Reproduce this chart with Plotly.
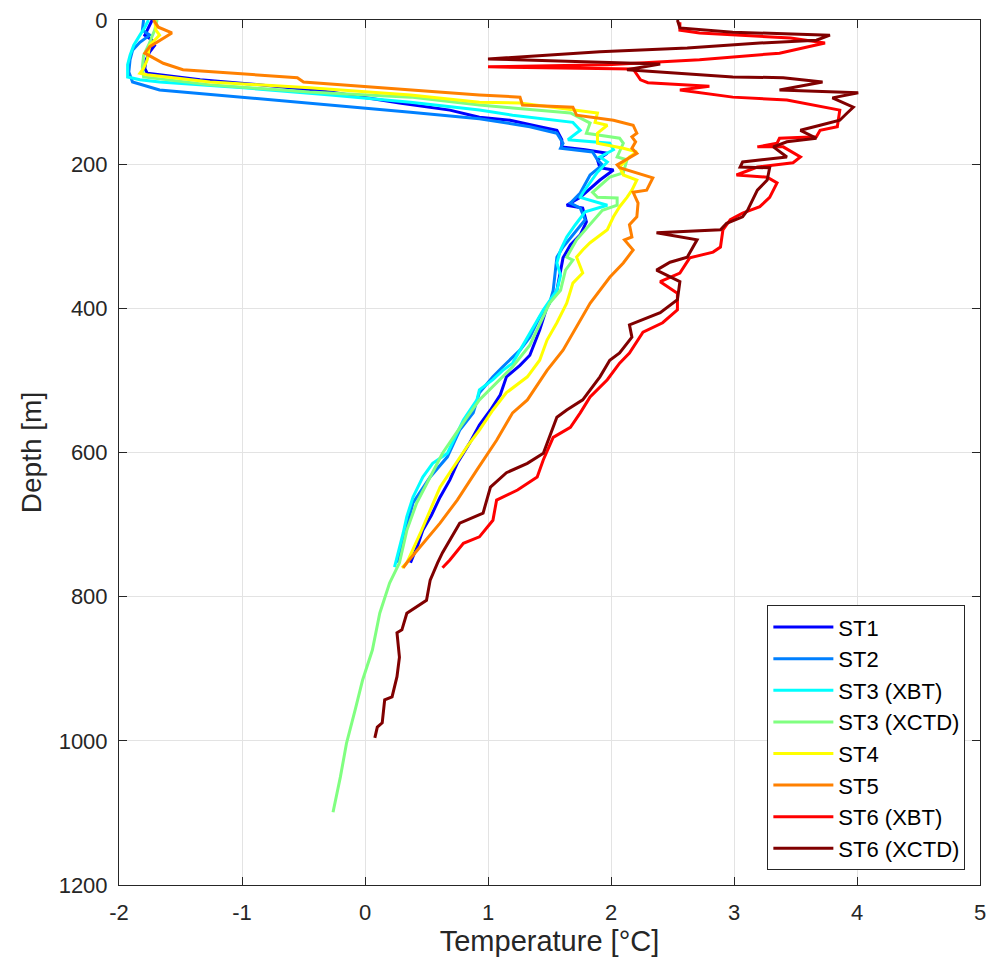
import plotly.graph_objects as go

# ---- data (temperature [°C], depth [m]) ----
st1_t = [-1.73,-1.76,-1.79,-1.73,-1.71,-1.75,-1.78,-1.79,-1.77,-1.67,-1.34,-0.85,-0.28,0.28,0.69,0.93,1.18,1.42,1.56,1.60,1.60,1.79,1.97,1.89,1.91,2.02,1.91,1.75,1.64,1.77,1.80,1.75,1.67,1.61,1.59,1.56,1.48,1.42,1.34,1.26,1.15,1.10,1.02,0.93,0.85,0.75,0.69,0.61,0.54,0.47,0.43,0.37]
st1_d = [0,11,21,28,35,44,55,67,74,76,83,90,100,115,125,135,139,148,153,166,176,180,185,194,205,208,222,246,257,261,280,298,312,330,347,375,398,430,465,479,495,520,541,562,587,615,638,662,687,708,728,753]

st2_t = [-1.80,-1.81,-1.75,-1.83,-1.89,-1.91,-1.92,-1.89,-1.67,-0.99,-0.28,0.37,0.93,1.34,1.56,1.61,1.59,1.85,1.89,1.93,1.83,1.75,1.67,1.75,1.79,1.71,1.61,1.56,1.54,1.53,1.50,1.42,1.34,1.26,1.12,1.04,0.93,0.88,0.77,0.67,0.53,0.39,0.34,0.27,0.27]
st2_d = [0,14,21,31,42,55,72,86,97,107,118,128,137,148,157,171,178,183,194,201,215,240,254,261,277,294,315,329,357,375,393,412,440,458,481,495,517,545,569,606,634,670,703,745,753]

st3x_t = [-1.76,-1.79,-1.83,-1.88,-1.91,-1.93,-1.93,-1.83,-1.67,-0.99,-0.28,0.37,0.93,1.20,1.69,1.75,1.65,1.99,2.02,1.91,1.97,1.89,1.77,1.75,1.97,1.79,1.71,1.64,1.59,1.56,1.59,1.56,1.45,1.32,1.20,1.12,1.04,0.93,0.91,0.80,0.75,0.67,0.55,0.47,0.39,0.34,0.31,0.26,0.24]
st3x_d = [0,10,21,35,49,62,79,83,86,94,104,114,125,132,142,153,166,171,180,190,197,211,240,246,257,266,284,301,319,337,354,375,402,440,476,486,499,513,527,555,573,601,615,634,662,689,712,745,759]

st3c_t = [-1.69,-1.71,-1.76,-1.80,-1.81,-1.80,-1.26,-0.45,0.37,0.93,1.20,1.67,1.83,1.80,2.07,2.10,2.05,2.13,2.10,1.99,1.85,1.89,2.05,2.05,1.93,1.83,1.72,1.64,1.69,1.63,1.59,1.50,1.42,1.34,1.20,1.04,0.93,0.83,0.72,0.63,0.53,0.42,0.34,0.28,0.20,0.12,0.06,-0.02,-0.08,-0.15,-0.20,-0.26]
st3c_d = [0,14,35,49,65,79,90,100,107,118,122,129,143,157,164,171,190,194,212,218,239,246,247,257,264,284,305,329,333,347,375,393,423,451,481,509,527,551,579,601,634,670,708,753,781,823,874,916,957,1003,1050,1099]

st4_t = [-1.71,-1.70,-1.67,-1.75,-1.77,-1.80,-1.83,-1.77,-1.26,-0.45,0.37,0.93,1.26,1.89,1.87,1.97,1.89,1.89,2.10,2.21,2.15,2.07,2.10,2.21,2.17,2.13,2.07,2.02,1.97,1.83,1.77,1.72,1.77,1.69,1.64,1.56,1.48,1.42,1.32,1.15,1.04,0.93,0.83,0.72,0.61,0.53,0.45,0.34,0.30]
st4_d = [0,14,21,35,55,67,74,76,86,94,104,114,115,129,142,146,157,171,178,183,190,204,215,222,236,246,259,273,291,309,319,329,351,365,393,420,444,472,495,517,541,569,592,620,648,680,712,753,760]

st5_t = [-1.72,-1.68,-1.57,-1.67,-1.75,-1.79,-1.64,-1.48,-0.55,-0.50,0.37,0.93,1.26,1.28,1.69,1.72,2.02,2.18,2.21,2.17,2.20,2.17,2.21,2.05,2.07,2.34,2.29,2.18,2.22,2.21,2.15,2.17,2.11,2.18,2.10,1.99,1.83,1.72,1.61,1.48,1.32,1.20,1.07,0.91,0.75,0.61,0.47,0.34,0.31]
st5_d = [0,10,18,28,37,46,60,69,80,86,97,104,107,118,121,132,139,146,157,162,169,178,185,201,205,219,236,239,254,273,284,301,305,319,337,357,393,426,458,486,527,545,583,624,666,698,726,753,760]

st6x_t = [2.56,2.56,2.72,3.46,3.74,3.37,2.72,1.97,1.00,2.18,2.24,2.30,2.80,2.56,2.99,3.43,3.86,3.84,3.70,3.67,3.37,3.35,3.19,3.40,3.54,3.48,3.19,3.02,3.27,3.35,3.29,3.21,3.07,2.97,2.91,2.89,2.83,2.64,2.56,2.40,2.54,2.54,2.42,2.26,2.15,2.07,1.97,1.83,1.75,1.67,1.53,1.45,1.40,1.24,1.07,1.04,0.93,0.80,0.69,0.63]
st6x_d = [3,14,18,25,32,46,55,62,65,68,83,87,92,97,107,111,125,148,153,162,164,171,176,176,190,198,204,215,218,226,246,259,268,277,291,315,322,330,351,363,379,402,420,433,462,476,499,523,545,565,579,610,634,652,666,694,717,726,749,760]

st6c_t = [2.54,2.56,2.99,3.78,3.67,3.21,2.62,1.91,1.00,1.85,2.40,2.13,2.99,3.40,3.72,3.37,4.01,3.80,3.97,3.92,3.86,3.70,3.54,3.67,3.43,3.32,3.43,3.07,3.05,3.29,3.27,3.19,3.11,3.07,2.94,2.89,2.37,2.70,2.62,2.48,2.37,2.56,2.54,2.40,2.15,2.17,2.07,1.99,1.91,1.77,1.64,1.56,1.45,1.32,1.15,1.02,0.96,0.77,0.63,0.59,0.53,0.50,0.34,0.30,0.26,0.28,0.26,0.22,0.16,0.14,0.10,0.08]
st6c_d = [0,11,17,21,28,32,39,44,54,58,61,69,79,80,86,97,101,108,121,129,139,146,153,164,169,176,190,197,204,205,222,236,264,273,282,291,295,305,329,336,347,363,388,406,423,440,462,472,495,527,541,551,601,615,628,648,684,698,739,753,777,805,823,846,850,884,911,939,943,975,981,996]

names = ["ST1", "ST2", "ST3 (XBT)", "ST3 (XCTD)", "ST4", "ST5", "ST6 (XBT)", "ST6 (XCTD)"]
colors = ["#0000FF", "#0080FF", "#00FFFF", "#80FF80", "#FFFF00", "#FF8000", "#FF0000", "#800000"]
temps = [st1_t, st2_t, st3x_t, st3c_t, st4_t, st5_t, st6x_t, st6c_t]
depths = [st1_d, st2_d, st3x_d, st3c_d, st4_d, st5_d, st6x_d, st6c_d]

x_ticks = [-2, -1, 0, 1, 2, 3, 4, 5]
y_ticks = [0, 200, 400, 600, 800, 1000, 1200]

FONT = "Liberation Sans, Arial, sans-serif"

fig = go.Figure()
for n, c, t, d in zip(names, colors, temps, depths):
    fig.add_trace(go.Scatter(x=t, y=d, mode="lines", name=n,
                             line=dict(color=c, width=3)))

axis_common = dict(
    showline=True, linecolor="#262626", linewidth=1, mirror="ticks",
    ticks="inside", ticklen=8, tickcolor="#262626",
    showgrid=True, gridcolor="#E3E3E3", gridwidth=1, zeroline=False,
    automargin=False, ticklabeloverflow="allow",
    tickfont=dict(family=FONT, size=22, color="#262626"),
)

fig.update_xaxes(range=[-2, 5], tickvals=x_ticks, ticktext=[str(v) for v in x_ticks],
                 title=dict(text="Temperature [°C]", standoff=6,
                            font=dict(family=FONT, size=29, color="#262626")),
                 ticklabelstandoff=8, **axis_common)
fig.update_yaxes(range=[1200, 0], tickvals=y_ticks, ticktext=[str(v) for v in y_ticks],
                 title=dict(text="Depth [m]", standoff=8,
                            font=dict(family=FONT, size=28, color="#262626")),
                 ticklabelstandoff=6, **axis_common)

fig.update_layout(
    width=987, height=968,
    margin=dict(l=119, r=7, t=20, b=83),
    plot_bgcolor="white", paper_bgcolor="white",
    legend=dict(x=0.983, xanchor="right", y=0.017, yanchor="bottom",
                bgcolor="white", bordercolor="#262626", borderwidth=1,
                font=dict(family=FONT, size=22, color="#000000"),
                tracegroupgap=0, itemwidth=60),
    showlegend=True,
)

# remove the browser's default 8px body margin so the figure fills the window
fig.write_html("out.html",
               config={"displayModeBar": False},
               post_script="document.body.style.margin='0';document.body.style.overflow='hidden';")
